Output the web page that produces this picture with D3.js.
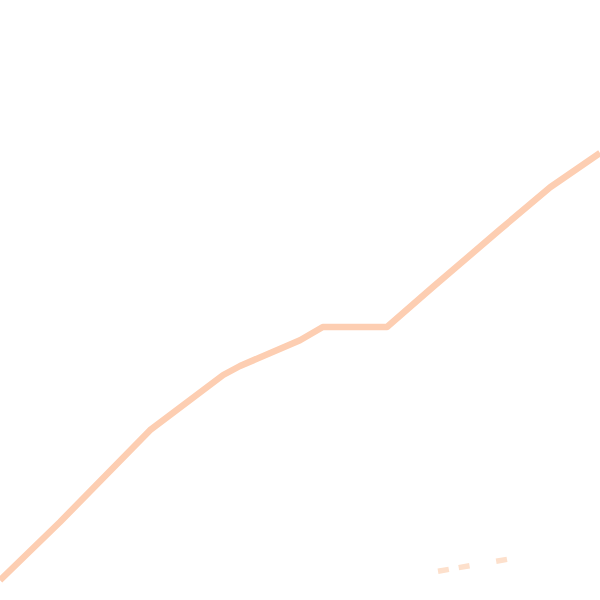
<!DOCTYPE html>
<html>
<head>
<meta charset="utf-8">
<script src="https://cdn.jsdelivr.net/npm/d3@7"></script>
<style>
  html, body { margin: 0; padding: 0; background: #fff; }
  svg { display: block; }
</style>
</head>
<body>
<div class="container"></div>
<script>
// main series (0..100 on both axes)
const mainX = [0, 10, 25, 37.2, 40, 50, 53.8, 64.5, 72.2, 83.3, 91.7, 100];
const mainY = [3.3, 13, 28.3, 37.5, 39, 43.3, 45.5, 45.5, 52.2, 61.7, 68.8, 74.5];

// faint dashed fragment near the bottom right
const dashX = [73, 84.7];
const dashY = [4.8, 6.8];

const width = 600, height = 600;

let svg = d3.select('.container')
    .append('svg')
    .attr('width', width)
    .attr('height', height);

let xScale = d3.scaleLinear().domain([0, 100]).range([0, width]);
let yScale = d3.scaleLinear().domain([0, 100]).range([height, 0]);

let line = d3.line()
    .x(d => xScale(d[0]))
    .y(d => yScale(d[1]));

const mainPts = mainX.map((x, i) => [x, mainY[i]]);
const dashPts = dashX.map((x, i) => [x, dashY[i]]);

svg.append('path')
    .datum(mainPts)
    .attr('d', line)
    .attr('fill', 'none')
    .attr('stroke', '#fdceb2')
    .attr('stroke-width', 6.5)
    .attr('stroke-linejoin', 'round');

svg.append('path')
    .datum(dashPts)
    .attr('d', line)
    .attr('fill', 'none')
    .attr('stroke', '#fde0cc')
    .attr('stroke-width', 5.5)
    .attr('stroke-dasharray', '11,10,11,27,11,100');
</script>
</body>
</html>
